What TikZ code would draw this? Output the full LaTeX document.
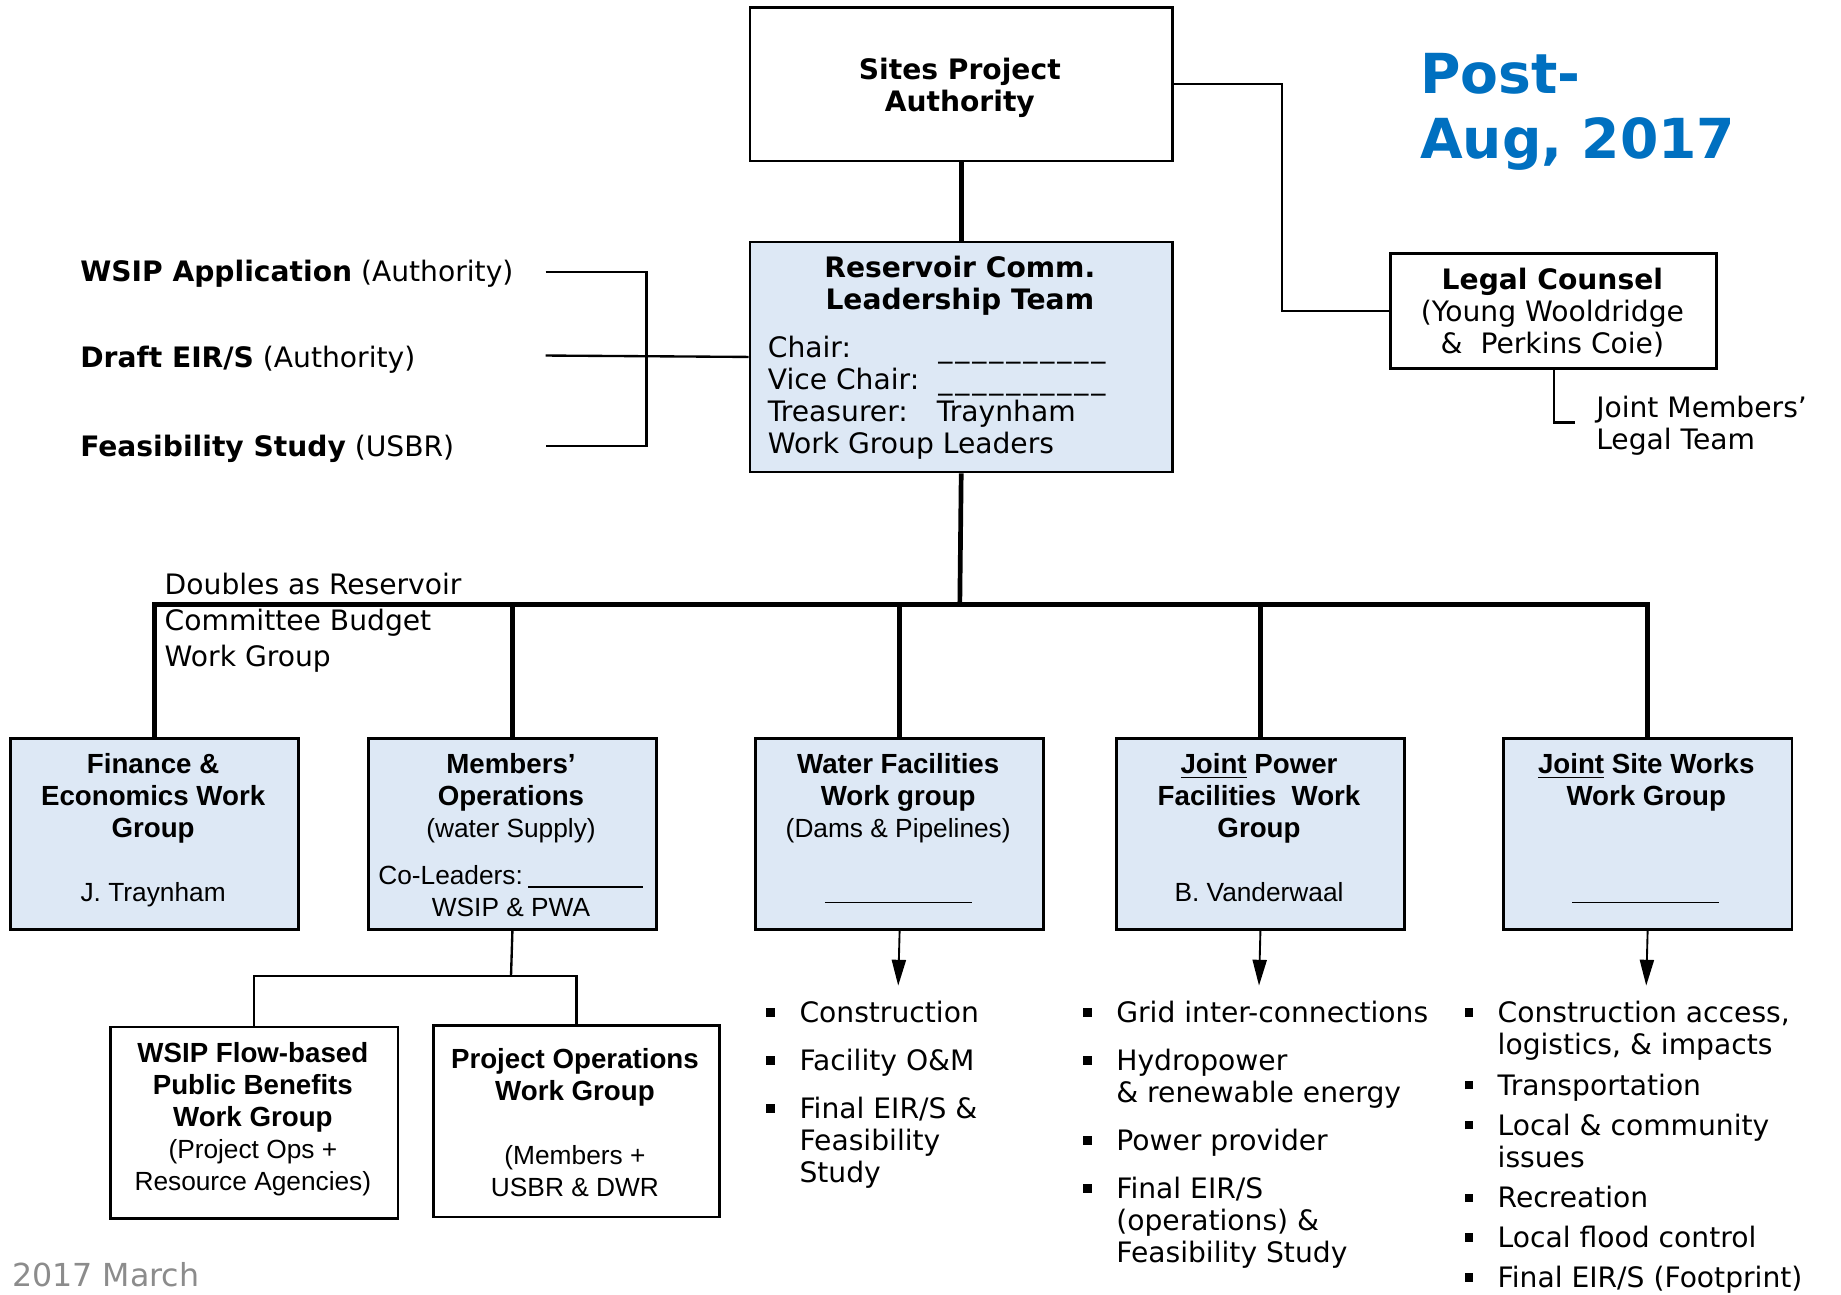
\documentclass[tikz,border=0pt]{standalone}
\usepackage{fontspec}
\setmainfont{Liberation Sans}
\newfontfamily\vfont{DejaVu Sans}
\usetikzlibrary{arrows.meta}
\definecolor{boxblue}{RGB}{221,232,245}
\definecolor{titleblue}{RGB}{0,112,192}
\definecolor{dategray}{RGB}{140,140,140}
\newcommand\fst{\rule{0pt}{10pt}}
\newcommand\us{\makebox[7.25pt][c]{\_}}
\newcommand\uss{\us\us\us\us\us\us\us\us\us\us}
\newcommand\blt{\llap{\raisebox{2.5pt}{\rule{3.6pt}{3.6pt}}\hspace{10.5pt}}}
\newcommand\rg{\mdseries\fontsize{11.2}{13.6}\selectfont}
\begin{document}
\begin{tikzpicture}[x=0.5pt,y=-0.5pt,
  box/.style={draw=black, line width=1.2pt, anchor=north west, inner sep=0},
  bluebox/.style={box, fill=boxblue},
  whitebox/.style={box, fill=white},
  thickline/.style={line width=2pt},
  thinline/.style={line width=1pt},
  arrline/.style={line width=0.8pt, -{Triangle[length=11pt,width=6pt]}},
  vtxt/.style={font=\vfont\fontsize{12}{13.7}\selectfont, inner sep=0},
  vbtxt/.style={font=\vfont\bfseries\fontsize{12}{13.7}\selectfont, inner sep=0, align=center, anchor=north},
  btxt/.style={font=\bfseries\fontsize{11.8}{13.6}\selectfont, inner sep=0, align=center, anchor=north},
  rtxt/.style={font=\fontsize{11.2}{13.6}\selectfont, inner sep=0, anchor=base},
  bul/.style={vtxt, align=left, anchor=north west},
  ttl/.style={font=\vfont\bfseries\fontsize{23.5}{27.5}\selectfont, text=titleblue, inner sep=0, anchor=base west}
]
\useasboundingbox (0,0) rectangle (1569,1103);

% ---- connector end points ----
\coordinate (b1) at (465,232);
\coordinate (b2) at (465,303);
\coordinate (b3) at (465,380);
\coordinate (bus) at (818,515);
\coordinate (mj) at (435.5,832);
\coordinate (jmEnd) at (1342,360);

% ---- boxes ----
\node[whitebox, minimum width=180pt, minimum height=65.5pt] (sites) at (638,5) {};
\node[bluebox, minimum width=180pt, minimum height=98pt] (res) at (638,205) {};
\node[whitebox, minimum width=139pt, minimum height=49pt] (legal) at (1184,215) {};
\node[bluebox, minimum width=122.5pt, minimum height=81.5pt] (fin) at (8,628) {};
\node[bluebox, minimum width=122.5pt, minimum height=81.5pt] (mem) at (313,628) {};
\node[bluebox, minimum width=122.5pt, minimum height=81.5pt] (wat) at (643,628) {};
\node[bluebox, minimum width=123pt, minimum height=81.5pt] (pow) at (950,628) {};
\node[bluebox, minimum width=123pt, minimum height=81.5pt] (site) at (1280,628) {};
\node[whitebox, minimum width=122.5pt, minimum height=81.5pt] (wsip) at (93,874) {};
\node[whitebox, minimum width=122pt, minimum height=81.5pt] (proj) at (368,873) {};

\coordinate (a1) at (765.5,840);
\coordinate (a2) at (1073,840);
\coordinate (a3) at (1403,840);

\draw[thickline] (sites.south) -- (res.north);
\draw[thinline] (sites.east) -- ++(92,0) |- (legal.west);
\draw[thinline] (legal.south) |- (jmEnd);
\draw[thinline] (b1) -- (551,232) -- (551,380) -- (b3);
\draw[thinline] (b2) -- (res.west);
\draw[thickline] (res.south) -- (bus);
\draw[thickline] (fin.north) -- (fin.north |- bus) -| (site.north);
\foreach \n in {mem,wat,pow} \draw[thickline] (\n.north) -- (\n.north |- bus);
\draw[thinline] (mem.south) -- (mj);
\draw[thinline] (wsip.north) |- (mj) -| (proj.north);
\draw[arrline] (wat.south) -- (a1);
\draw[arrline] (pow.south) -- (a2);
\draw[arrline] (site.south) -- (a3);

% ---- title and notes ----
\node[ttl] (t1) at (1210,80) {Post-};
\node[ttl] (t2) at (1210,135) {Aug, 2017};
\node[font=\vfont\fontsize{13.5}{16}\selectfont, text=dategray, inner sep=0, anchor=base west] (date) at (10,1096) {2017 March};

\node[vbtxt] (sitesT) at (818,47) {\fst Sites Project\\Authority};
\node[vbtxt] (resT) at (818,216) {\fst Reservoir Comm.\\Leadership Team};
\node[vtxt, align=left, anchor=north west] (resD) at (654,284)
  {\fst\makebox[72pt][l]{Chair:}\uss\\\makebox[72pt][l]{Vice Chair:}\uss\\\makebox[72pt][l]{Treasurer:}Traynham\\Work Group Leaders};
\node[vtxt, align=center, anchor=north] (legalT) at (1323,226)
  {\fst{\bfseries Legal Counsel}\\(Young Wooldridge\\\&\ \ Perkins Coie)};
\node[vtxt, align=left, anchor=north west] (jmT) at (1360,335) {\fst Joint Members’\\Legal Team};

\node[vtxt, anchor=base west] (lab1) at (68,240) {\textbf{WSIP Application} (Authority)};
\node[vtxt, anchor=base west] (lab2) at (68,313) {\textbf{Draft EIR/S} (Authority)};
\node[vtxt, anchor=base west] (lab3) at (68,389) {\textbf{Feasibility Study} (USBR)};

\node[vtxt, align=left, anchor=north west, font=\vfont\fontsize{12}{15.5}\selectfont] (dbl) at (140,486)
  {\fst Doubles as Reservoir\\Committee Budget\\Work Group};

% ---- box texts ----
\node[btxt] (finT) at (130.5,639) {\fst Finance \&\\Economics Work\\Group};
\node[rtxt] (finN) at (130.5,768) {J. Traynham};

\node[btxt] (memT) at (435.5,639) {\fst Members’\\Operations\\{\rg (water Supply)}};
\node[rtxt, anchor=base west] (memC) at (322,754) {Co-Leaders:};
\draw[line width=0.7pt] (450,756) -- (548,756);
\node[rtxt] (memW) at (435.5,781) {WSIP \& PWA};

\node[btxt] (watT) at (765.5,639) {\fst Water Facilities\\Work group\\{\rg (Dams \& Pipelines)}};
\draw[line width=0.7pt] (703,769) -- (828,769);

\node[btxt] (powT) at (1073,639) {\fst\underline{Joint} Power\\Facilities\ \ Work\\Group};
\node[rtxt] (powN) at (1073,768) {B. Vanderwaal};

\node[btxt] (siteT) at (1403,639) {\fst\underline{Joint} Site Works\\Work Group};
\draw[line width=0.7pt] (1340,769) -- (1465,769);

\node[btxt] (wsipT) at (215.5,885) {\fst WSIP Flow-based\\Public Benefits\\Work Group\\{\rg (Project Ops +}\\{\rg Resource Agencies)}};
\node[btxt] (projT) at (490,890) {\fst Project Operations\\Work Group};
\node[btxt, font=\rg] (projN) at (490,972) {\fst (Members +\\USBR \& DWR};

% ---- bullet lists ----
\node[bul] (c1a) at (681,851) {\fst\blt Construction};
\node[bul] (c1b) at (681,892) {\fst\blt Facility O\&M};
\node[bul] (c1c) at (681,933) {\fst\blt Final EIR/S \&\\Feasibility\\Study};

\node[bul] (c2a) at (951,851) {\fst\blt Grid inter-connections};
\node[bul] (c2b) at (951,892) {\fst\blt Hydropower\\\& renewable energy};
\node[bul] (c2c) at (951,960) {\fst\blt Power provider};
\node[bul] (c2d) at (951,1001) {\fst\blt Final EIR/S\\(operations) \&\\Feasibility Study};

\node[bul] (c3a) at (1276,851) {\fst\blt Construction access,\\logistics, \& impacts};
\node[bul] (c3b) at (1276,913) {\fst\blt Transportation};
\node[bul] (c3c) at (1276,947) {\fst\blt Local \& community\\issues};
\node[bul] (c3d) at (1276,1009) {\fst\blt Recreation};
\node[bul] (c3e) at (1276,1043) {\fst\blt Local flood control};
\node[bul] (c3f) at (1276,1077) {\fst\blt Final EIR/S (Footprint)};
\end{tikzpicture}
\end{document}
